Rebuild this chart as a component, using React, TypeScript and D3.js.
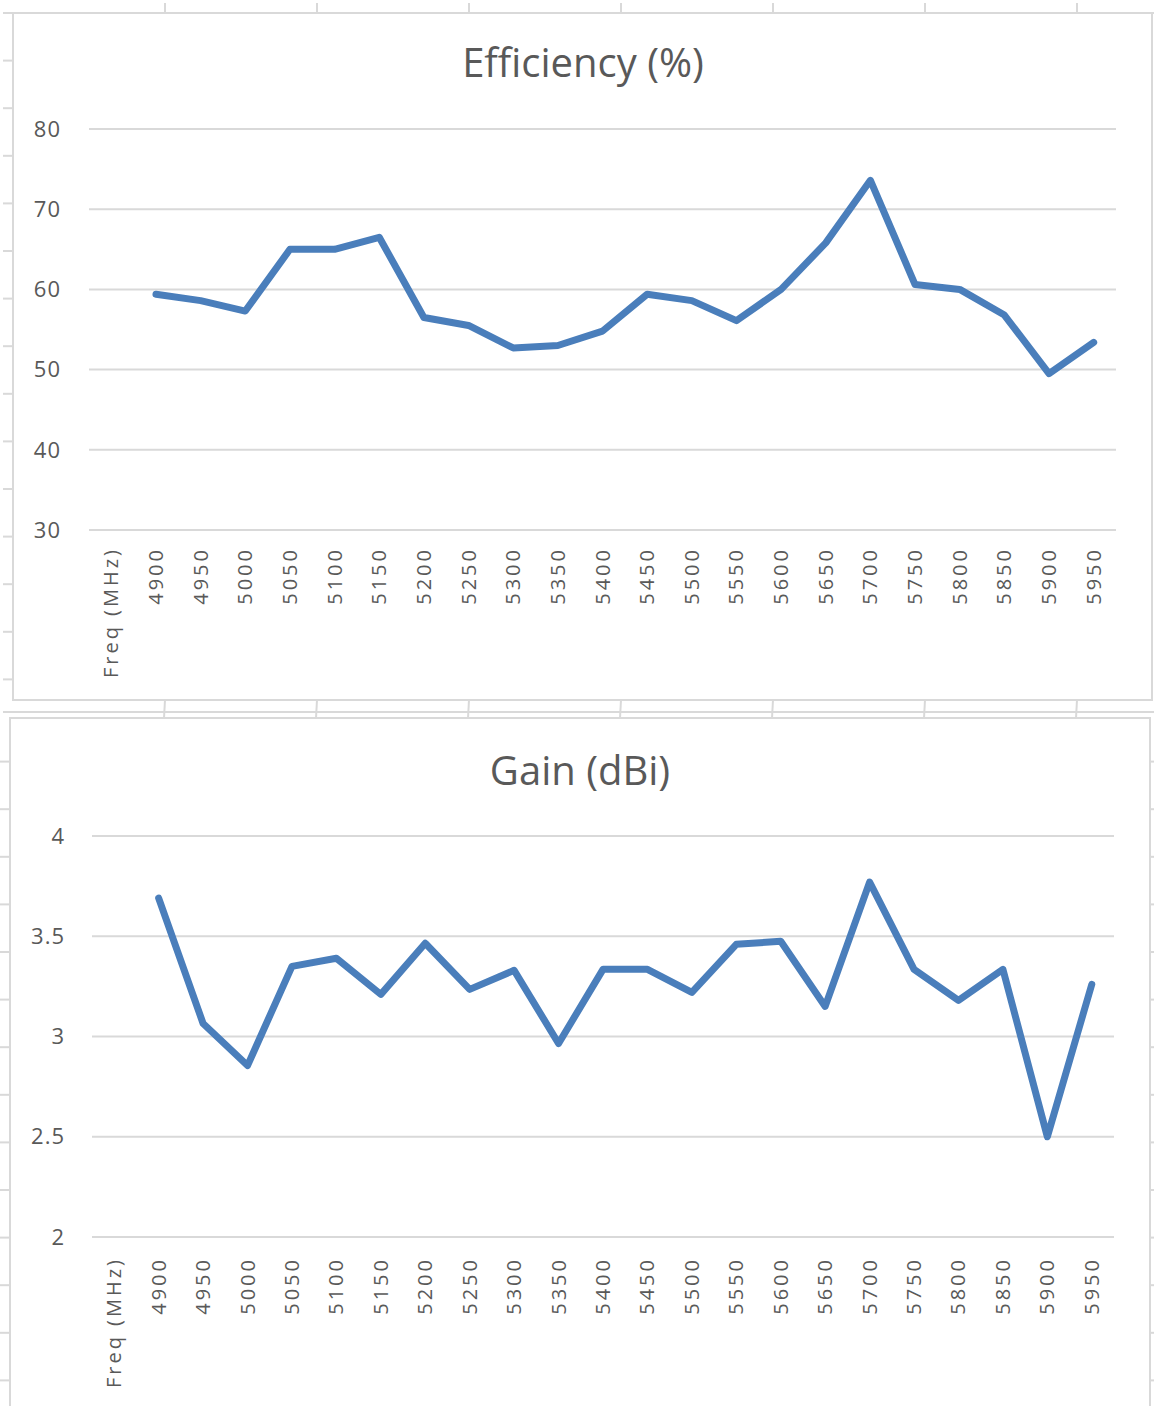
import * as d3 from 'd3';
import React, { FC, useEffect } from 'react';

// first category is the header cell picked up by Excel, it has no value
const categories = ['Freq (MHz)', '4900', '4950', '5000', '5050', '5100', '5150', '5200', '5250', '5300', '5350', '5400', '5450', '5500', '5550', '5600', '5650', '5700', '5750', '5800', '5850', '5900', '5950'];
const efficiency = [null, 59.4, 58.6, 57.3, 65.0, 65.0, 66.5, 56.5, 55.5, 52.7, 53.0, 54.8, 59.4, 58.6, 56.1, 60.0, 65.8, 73.6, 60.6, 60.0, 56.8, 49.5, 53.4];
const gain = [null, 3.69, 3.065, 2.855, 3.35, 3.39, 3.21, 3.465, 3.235, 3.33, 2.965, 3.335, 3.335, 3.22, 3.46, 3.475, 3.15, 3.77, 3.335, 3.18, 3.335, 2.5, 3.26];
const efficiencyTicks = [30, 40, 50, 60, 70, 80];
const gainTicks = [2, 2.5, 3, 3.5, 4];

const W = 1154;
const H = 1406;
const gridColor = '#d9d9d9';
const textColor = '#595959';
const lineColor = '#4a7ebb';
const font = "'Open Sans', 'DejaVu Sans', sans-serif";

interface PanelProps {
	title: string;
	values: (number | null)[];
	ticks: number[];
	titleY: number;
	titleX: number;
	top: number;
	bottom: number;
	left: number;
	right: number;
	labelRight: number;
	catGap: number;
}

const drawPanel = (svg: any, p: PanelProps) => {
	const g = svg.append('g');

	const x: any = d3.scaleBand().domain(categories).range([p.left, p.right]).padding(0);
	const y: any = d3
		.scaleLinear()
		.domain([p.ticks[0], p.ticks[p.ticks.length - 1]])
		.range([p.bottom, p.top]);

	g.append('text')
		.attr('x', p.titleX)
		.attr('y', p.titleY)
		.attr('text-anchor', 'middle')
		.attr('font-family', font)
		.attr('font-size', 40)
		.attr('fill', textColor)
		.text(p.title);

	// horizontal gridlines
	g.append('g')
		.selectAll('line')
		.data(p.ticks)
		.join('line')
		.attr('x1', p.left)
		.attr('x2', p.right)
		.attr('y1', (d: number) => y(d))
		.attr('y2', (d: number) => y(d))
		.attr('stroke', gridColor)
		.attr('stroke-width', 2);

	g.append('g')
		.selectAll('text')
		.data(p.ticks)
		.join('text')
		.attr('x', p.labelRight)
		.attr('y', (d: number) => y(d))
		.attr('dy', '0.35em')
		.attr('text-anchor', 'end')
		.attr('font-family', font)
		.attr('font-size', 22)
		.attr('letter-spacing', 1)
		.attr('fill', textColor)
		.text((d: number) => String(d));

	// category labels, rotated
	g.append('g')
		.selectAll('text')
		.data(categories)
		.join('text')
		.attr('transform', (d: string) => `translate(${x(d) + x.bandwidth() / 2},${p.bottom + p.catGap}) rotate(-90)`)
		.attr('dy', '0.35em')
		.attr('text-anchor', 'end')
		.attr('font-family', font)
		.attr('font-size', 20)
		.attr('letter-spacing', 3)
		.attr('fill', textColor)
		.text((d: string) => d);

	const line = d3
		.line<number | null>()
		.defined((d) => d !== null)
		.x((d, i) => x(categories[i]) + x.bandwidth() / 2)
		.y((d) => y(d as number));

	g.append('path')
		.datum(p.values)
		.attr('d', line)
		.attr('fill', 'none')
		.attr('stroke', lineColor)
		.attr('stroke-width', 7)
		.attr('stroke-linejoin', 'round')
		.attr('stroke-linecap', 'round');
};

const initializeChart = () => {
	const svg = d3
		.create('svg')
		.attr('width', W)
		.attr('height', H)
		.attr('viewBox', `0 0 ${W} ${H}`)
		.style('display', 'block')
		.style('background', '#fff');

	// spreadsheet grid behind the charts
	const bg = svg.append('g').attr('stroke', gridColor).attr('stroke-width', 2).attr('fill', 'none');
	const cols = d3.range(7).map((i) => 165 + i * 152);
	const rowsTop = d3.range(1, 15).map((i) => 13 + i * 47.6);
	const rowsBottom = d3.range(1, 15).map((i) => 718 + i * 47.6 - 4);

	bg.append('line').attr('x1', 3).attr('x2', W).attr('y1', 13).attr('y2', 13);
	cols.forEach((c) => {
		bg.append('line').attr('x1', c).attr('x2', c).attr('y1', 3).attr('y2', 13);
		bg.append('line').attr('x1', c).attr('x2', c - 1).attr('y1', 700).attr('y2', 718);
	});
	rowsTop.forEach((r) => bg.append('line').attr('x1', 3).attr('x2', 13).attr('y1', r).attr('y2', r));
	rowsBottom.forEach((r) => {
		bg.append('line').attr('x1', 0).attr('x2', 10).attr('y1', r).attr('y2', r);
		bg.append('line').attr('x1', 1150).attr('x2', W).attr('y1', r).attr('y2', r);
	});
	bg.append('line').attr('x1', 3).attr('x2', W).attr('y1', 712).attr('y2', 712);

	// chart frames
	bg.append('rect').attr('x', 13).attr('y', 13).attr('width', 1139).attr('height', 687).attr('fill', '#fff');
	bg.append('rect').attr('x', 10).attr('y', 718).attr('width', 1140).attr('height', 720).attr('fill', '#fff');

	drawPanel(svg, {
		title: 'Efficiency (%)',
		values: efficiency,
		ticks: efficiencyTicks,
		titleX: 583,
		titleY: 77,
		top: 129,
		bottom: 530,
		left: 89,
		right: 1116,
		labelRight: 61,
		catGap: 17,
	});

	drawPanel(svg, {
		title: 'Gain (dBi)',
		values: gain,
		ticks: gainTicks,
		titleX: 580,
		titleY: 785,
		top: 836,
		bottom: 1237,
		left: 92,
		right: 1114,
		labelRight: 65,
		catGap: 20,
	});

	return svg.node();
};

const App: FC = () => {
	const containerDiv = React.useRef<HTMLDivElement>(null);

	useEffect(() => {
		const chart = initializeChart();
		const container = containerDiv.current as HTMLDivElement;
		if (container && chart) {
			container.firstChild && container.removeChild(container.firstChild);
			container.appendChild(chart);
		}
	}, []);

	return <div ref={containerDiv} style={{ position: 'absolute', left: 0, top: 0 }}></div>;
};

export default App;
